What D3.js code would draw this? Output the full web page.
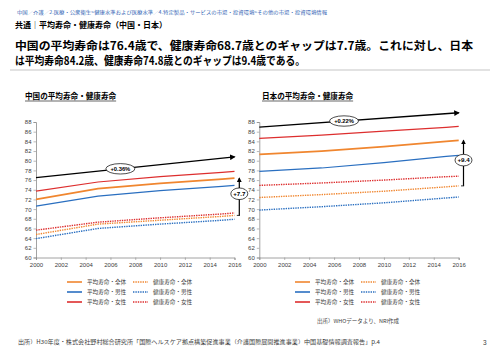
<!DOCTYPE html>
<html>
<head>
<meta charset="utf-8">
<script src="https://cdn.jsdelivr.net/npm/d3@7"></script>
<style>
  body { margin: 0; background: #fff; }
  text { font-family: "Noto Sans CJK JP", "Liberation Sans", sans-serif; }
  .num { font-family: "Liberation Sans", Arial, sans-serif; }
</style>
</head>
<body>
<div id="chart"></div>
<script>
// years on x
var years = [2000, 2005, 2010, 2015, 2016];
var xTicks = [2000, 2002, 2004, 2006, 2008, 2010, 2012, 2014, 2016];
var yTicks = [60, 62, 64, 66, 68, 70, 72, 74, 76, 78, 80, 82, 84, 86, 88];

// China
var cnLifeTotal = [72.0, 74.25, 75.3, 76.2, 76.4];
var cnLifeMale = [70.6, 72.7, 73.8, 74.7, 74.9];
var cnLifeFemale = [73.7, 75.6, 76.7, 77.6, 77.8];
var cnHaleTotal = [64.75, 66.9, 67.7, 68.5, 68.7];
var cnHaleMale = [63.9, 66.0, 66.9, 67.7, 67.9];
var cnHaleFemale = [65.65, 67.3, 68.2, 69.0, 69.2];
var cnTrend = [76.5, 80.8];   // 2000 -> 2016
var cnTrendLabel = "+0.36%";
var cnGap = [76.4, 68.7];
var cnGapLabel = "+7.7";

// Japan
var jpLifeTotal = [81.3, 82.0, 82.9, 84.0, 84.2];
var jpLifeMale = [77.8, 78.5, 79.6, 80.9, 81.1];
var jpLifeFemale = [84.6, 85.3, 86.1, 86.9, 87.1];
var jpHaleTotal = [72.4, 73.0, 73.7, 74.6, 74.8];
var jpHaleMale = [69.8, 70.5, 71.3, 72.3, 72.5];
var jpHaleFemale = [74.9, 75.4, 76.0, 76.7, 76.8];
var jpTrend = [86.95, 89.9];
var jpTrendLabel = "+0.22%";
var jpGap = [84.2, 74.8];
var jpGapLabel = "+9.4";

var legendNames = ["平均寿命・全体", "健康寿命・全体", "平均寿命・男性", "健康寿命・男性", "平均寿命・女性", "健康寿命・女性"];

var colOrange = "#f0862f", colBlue = "#2a6fc0", colRed = "#dd2e2e";

var svg = d3.select("#chart").append("svg")
    .attr("width", 500)
    .attr("height", 353);

// header texts
svg.append("text").attr("x", 17).attr("y", 14)
    .style("font-size", "4.6px").attr("fill", "#2f5fb3")
    .attr("textLength", 310).attr("lengthAdjust", "spacingAndGlyphs")
    .text("中国／介護／2.医療・公衆衛生>健康水準および医療水準／4.特定製品・サービスの市場・投資環境>その他の市場・投資環境情報");

svg.append("text").attr("x", 15).attr("y", 28)
    .style("font-size", "8px").style("font-weight", "bold")
    .text("共通｜平均寿命・健康寿命（中国・日本）");

svg.append("text").attr("x", 15).attr("y", 49.5)
    .style("font-size", "11.3px").style("font-weight", "bold")
    .attr("textLength", 458).attr("lengthAdjust", "spacingAndGlyphs")
    .text("中国の平均寿命は76.4歳で、健康寿命68.7歳とのギャップは7.7歳。これに対し、日本");
svg.append("text").attr("x", 15).attr("y", 64.5)
    .style("font-size", "11.3px").style("font-weight", "bold")
    .attr("textLength", 290).attr("lengthAdjust", "spacingAndGlyphs")
    .text("は平均寿命84.2歳、健康寿命74.8歳とのギャップは9.4歳である。");

svg.append("line").attr("x1", 10).attr("x2", 490).attr("y1", 70).attr("y2", 70)
    .attr("stroke", "#d9d9d9").attr("stroke-width", 1.5);

// arrow marker
svg.append("defs").append("marker")
    .attr("id", "arrow")
    .attr("viewBox", "0 0 10 10")
    .attr("refX", 8).attr("refY", 5)
    .attr("markerWidth", 4).attr("markerHeight", 4)
    .attr("orient", "auto")
    .append("path").attr("d", "M0,0L10,5L0,10z").attr("fill", "#000");

var y = d3.scaleLinear().domain([60, 88]).range([257.5, 122]);

function drawPanel(opt) {
    var x = d3.scaleLinear().domain([2000, 2016]).range([opt.x0, opt.x1]);
    var g = svg.append("g");

    // title with underline
    var t = g.append("text").attr("x", opt.titleX).attr("y", 99)
        .style("font-size", "7.6px").style("font-weight", "bold")
        .text(opt.title);
    var tw = t.node().getComputedTextLength();
    g.append("line").attr("x1", opt.titleX).attr("x2", opt.titleX + tw)
        .attr("y1", 101).attr("y2", 101).attr("stroke", "#000").attr("stroke-width", 0.6);

    // axes
    var yAxis = g.append("g")
        .attr("transform", "translate(" + opt.x0 + ",0)")
        .call(d3.axisLeft(y).tickValues(yTicks).tickSize(2.5).tickPadding(2));
    var xAxis = g.append("g")
        .attr("transform", "translate(0," + y(60) + ")")
        .call(d3.axisBottom(x).tickValues(xTicks).tickSize(2.5).tickPadding(3).tickFormat(d3.format("d")));
    [yAxis, xAxis].forEach(function (a) {
        a.select(".domain").attr("stroke", "#8c8c8c").attr("stroke-width", 0.8);
        a.selectAll(".tick line").attr("stroke", "#8c8c8c").attr("stroke-width", 0.6);
        a.selectAll("text").attr("class", "num")
            .style("font-size", "6px").attr("fill", "#404040");
    });

    var line = d3.line()
        .x(function (d, i) { return x(years[i]); })
        .y(function (d) { return y(d); });

    var series = [
        { v: opt.hale[1], c: colBlue, dash: true },
        { v: opt.hale[0], c: colOrange, dash: true },
        { v: opt.hale[2], c: colRed, dash: true },
        { v: opt.life[1], c: colBlue, w: 1.2 },
        { v: opt.life[2], c: colRed, w: 1.2 },
        { v: opt.life[0], c: colOrange, w: 1.8 }
    ];
    series.forEach(function (s) {
        g.append("path").datum(s.v)
            .attr("d", line)
            .attr("fill", "none")
            .attr("stroke", s.c)
            .attr("stroke-width", s.dash ? 1.4 : s.w)
            .attr("stroke-dasharray", s.dash ? "1.4,1" : null);
    });

    // trend arrow
    g.append("line")
        .attr("x1", x(2000)).attr("y1", y(opt.trend[0]))
        .attr("x2", x(2016)).attr("y2", y(opt.trend[1]))
        .attr("stroke", "#000").attr("stroke-width", 1.4)
        .attr("marker-end", "url(#arrow)");
    var tx = x(2006.8), ty = y(opt.trend[0] + (opt.trend[1] - opt.trend[0]) * 6.8 / 16);
    g.append("ellipse").attr("cx", tx).attr("cy", ty).attr("rx", 14.5).attr("ry", 5.2)
        .attr("fill", "#fff").attr("stroke", "#000").attr("stroke-width", 0.7);
    g.append("text").attr("class", "num").attr("x", tx).attr("y", ty + 2)
        .attr("text-anchor", "middle").style("font-size", "5.8px").style("font-weight", "bold")
        .text(opt.trendLabel);

    // gap arrow
    var gx = x(2016) + 4.8;
    g.append("line")
        .attr("x1", gx).attr("y1", y(opt.gap[1]))
        .attr("x2", gx).attr("y2", y(opt.gap[0]))
        .attr("stroke", "#000").attr("stroke-width", 1.2)
        .attr("marker-end", "url(#arrow)");
    g.append("line").attr("x1", gx - 2.5).attr("x2", gx + 0.6)
        .attr("y1", y(opt.gap[1])).attr("y2", y(opt.gap[1]))
        .attr("stroke", "#000").attr("stroke-width", 0.8);
    var gy = y((opt.gap[0] + opt.gap[1]) / 2) - 3;
    g.append("ellipse").attr("cx", gx).attr("cy", gy).attr("rx", 8.5).attr("ry", 5.8)
        .attr("fill", "#fff").attr("stroke", "#000").attr("stroke-width", 0.7);
    g.append("text").attr("class", "num").attr("x", gx).attr("y", gy + 2.2)
        .attr("text-anchor", "middle").style("font-size", "6.2px").style("font-weight", "bold")
        .text(opt.gapLabel);

    // legend
    var legCols = [colOrange, colOrange, colBlue, colBlue, colRed, colRed];
    legendNames.forEach(function (name, i) {
        var col = i % 2, row = Math.floor(i / 2);
        var lx = opt.legX + col * 66, ly = 282 + row * 10;
        g.append("line").attr("x1", lx).attr("x2", lx + 15)
            .attr("y1", ly).attr("y2", ly)
            .attr("stroke", legCols[i])
            .attr("stroke-width", col === 0 ? 1.6 : 1.4)
            .attr("stroke-dasharray", col === 1 ? "1.4,1" : null);
        g.append("text").attr("x", lx + 20).attr("y", ly + 2)
            .style("font-size", "5.6px").attr("fill", "#404040")
            .text(name);
    });
}

drawPanel({
    x0: 36, x1: 234.5, titleX: 25, title: "中国の平均寿命・健康寿命",
    life: [cnLifeTotal, cnLifeMale, cnLifeFemale],
    hale: [cnHaleTotal, cnHaleMale, cnHaleFemale],
    trend: cnTrend, trendLabel: cnTrendLabel, gap: cnGap, gapLabel: cnGapLabel,
    legX: 67
});
drawPanel({
    x0: 259.3, x1: 458.7, titleX: 262, title: "日本の平均寿命・健康寿命",
    life: [jpLifeTotal, jpLifeMale, jpLifeFemale],
    hale: [jpHaleTotal, jpHaleMale, jpHaleFemale],
    trend: jpTrend, trendLabel: jpTrendLabel, gap: jpGap, gapLabel: jpGapLabel,
    legX: 295
});

// footer
svg.append("text").attr("x", 317).attr("y", 323)
    .style("font-size", "5.2px").attr("fill", "#404040")
    .attr("textLength", 82).attr("lengthAdjust", "spacingAndGlyphs")
    .text("出所）WHOデータより、NRI作成");
svg.append("text").attr("x", 18).attr("y", 344)
    .style("font-size", "5.6px").attr("fill", "#404040")
    .attr("textLength", 362).attr("lengthAdjust", "spacingAndGlyphs")
    .text("出所）H30年度・株式会社野村総合研究所「国際ヘルスケア拠点構築促進事業（介護国際展開推進事業）中国基礎情報調査報告」p.4");
svg.append("text").attr("class", "num").attr("x", 483).attr("y", 345)
    .style("font-size", "6.5px").attr("fill", "#404040")
    .text("3");
</script>
</body>
</html>
